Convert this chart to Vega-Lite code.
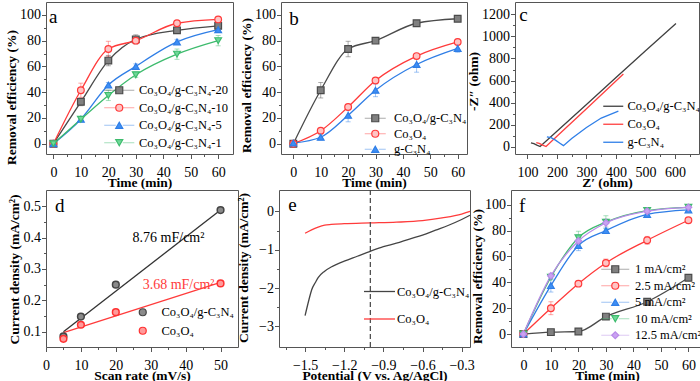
{
  "$schema": "https://vega.github.io/schema/vega-lite/v6.json",
  "padding": {"left": 3, "top": 1, "right": 0, "bottom": 0},
  "background": "white",
  "config": {
    "font": "Liberation Serif",
    "view": {"stroke": "#555555", "strokeWidth": 1},
    "axis": {"grid": false, "domain": false, "labelFont": "Liberation Serif", "titleFont": "Liberation Serif", "labelFontSize": 14, "titleFontSize": 13.5, "titleFontWeight": "bold", "labelColor": "#000000", "titleColor": "#000000", "tickColor": "#555555", "tickWidth": 1, "labelFlush": false, "labelOverlap": false, "labelBound": false},
    "axisX": {"labelPadding": 6.5, "titlePadding": -4},
    "axisY": {"labelPadding": 1, "titlePadding": 1.5},
    "legend": {"labelFont": "Liberation Serif", "labelFontSize": 12.5, "labelColor": "#000000", "padding": 0, "symbolStrokeWidth": 1.2, "labelLimit": 300}
  },
  "datasets": {
    "a": [
      {"s": "Co₃O₄/g-C₃N₄-20", "t": 0, "r": 0, "e": 1}, {"s": "Co₃O₄/g-C₃N₄-20", "t": 10, "r": 32.5, "e": 3}, {"s": "Co₃O₄/g-C₃N₄-20", "t": 20, "r": 64.5, "e": 4}, {"s": "Co₃O₄/g-C₃N₄-20", "t": 30, "r": 81, "e": 3.5}, {"s": "Co₃O₄/g-C₃N₄-20", "t": 45, "r": 88, "e": 1}, {"s": "Co₃O₄/g-C₃N₄-20", "t": 60, "r": 91.5, "e": 2},
      {"s": "Co₃O₄/g-C₃N₄-10", "t": 0, "r": 0, "e": 1}, {"s": "Co₃O₄/g-C₃N₄-10", "t": 10, "r": 41.5, "e": 5.5}, {"s": "Co₃O₄/g-C₃N₄-10", "t": 20, "r": 73.5, "e": 6}, {"s": "Co₃O₄/g-C₃N₄-10", "t": 30, "r": 80, "e": 2}, {"s": "Co₃O₄/g-C₃N₄-10", "t": 45, "r": 93.5, "e": 1.5}, {"s": "Co₃O₄/g-C₃N₄-10", "t": 60, "r": 96.5, "e": 1},
      {"s": "Co₃O₄/g-C₃N₄-5", "t": 0, "r": 0, "e": 1}, {"s": "Co₃O₄/g-C₃N₄-5", "t": 10, "r": 19, "e": 2}, {"s": "Co₃O₄/g-C₃N₄-5", "t": 20, "r": 45.5, "e": 2}, {"s": "Co₃O₄/g-C₃N₄-5", "t": 30, "r": 60, "e": 2}, {"s": "Co₃O₄/g-C₃N₄-5", "t": 45, "r": 79, "e": 2}, {"s": "Co₃O₄/g-C₃N₄-5", "t": 60, "r": 88.5, "e": 2},
      {"s": "Co₃O₄/g-C₃N₄-1", "t": 0, "r": 0, "e": 1}, {"s": "Co₃O₄/g-C₃N₄-1", "t": 10, "r": 19, "e": 1.5}, {"s": "Co₃O₄/g-C₃N₄-1", "t": 20, "r": 37.5, "e": 4}, {"s": "Co₃O₄/g-C₃N₄-1", "t": 30, "r": 53.5, "e": 2}, {"s": "Co₃O₄/g-C₃N₄-1", "t": 45, "r": 69.5, "e": 4}, {"s": "Co₃O₄/g-C₃N₄-1", "t": 60, "r": 80, "e": 4}
    ],
    "b": [
      {"s": "Co₃O₄/g-C₃N₄", "t": 0, "r": 0, "e": 1}, {"s": "Co₃O₄/g-C₃N₄", "t": 10, "r": 41.5, "e": 6}, {"s": "Co₃O₄/g-C₃N₄", "t": 20, "r": 73.5, "e": 6}, {"s": "Co₃O₄/g-C₃N₄", "t": 30, "r": 80, "e": 1.5}, {"s": "Co₃O₄/g-C₃N₄", "t": 45, "r": 93.5, "e": 1.5}, {"s": "Co₃O₄/g-C₃N₄", "t": 60, "r": 97, "e": 1},
      {"s": "Co₃O₄", "t": 0, "r": 0, "e": 2}, {"s": "Co₃O₄", "t": 10, "r": 10, "e": 1.5}, {"s": "Co₃O₄", "t": 20, "r": 28.5, "e": 2}, {"s": "Co₃O₄", "t": 30, "r": 49, "e": 2}, {"s": "Co₃O₄", "t": 45, "r": 68, "e": 2}, {"s": "Co₃O₄", "t": 60, "r": 79, "e": 2},
      {"s": "g-C₃N₄", "t": 0, "r": 0.5, "e": 2}, {"s": "g-C₃N₄", "t": 10, "r": 5, "e": 2}, {"s": "g-C₃N₄", "t": 20, "r": 22, "e": 5}, {"s": "g-C₃N₄", "t": 30, "r": 41.5, "e": 5}, {"s": "g-C₃N₄", "t": 45, "r": 61.5, "e": 6}, {"s": "g-C₃N₄", "t": 60, "r": 74, "e": 3}
    ],
    "c": [
      {"s": "Co₃O₄/g-C₃N₄", "zr": 112, "zi": 35}, {"s": "Co₃O₄/g-C₃N₄", "zr": 122, "zi": 28}, {"s": "Co₃O₄/g-C₃N₄", "zr": 132, "zi": 15}, {"s": "Co₃O₄/g-C₃N₄", "zr": 143, "zi": 2}, {"s": "Co₃O₄/g-C₃N₄", "zr": 200, "zi": 140}, {"s": "Co₃O₄/g-C₃N₄", "zr": 300, "zi": 383}, {"s": "Co₃O₄/g-C₃N₄", "zr": 400, "zi": 627}, {"s": "Co₃O₄/g-C₃N₄", "zr": 500, "zi": 870}, {"s": "Co₃O₄/g-C₃N₄", "zr": 603, "zi": 1118},
      {"s": "Co₃O₄", "zr": 130, "zi": 38}, {"s": "Co₃O₄", "zr": 140, "zi": 30}, {"s": "Co₃O₄", "zr": 152, "zi": 14}, {"s": "Co₃O₄", "zr": 163, "zi": 2}, {"s": "Co₃O₄", "zr": 200, "zi": 95}, {"s": "Co₃O₄", "zr": 300, "zi": 345}, {"s": "Co₃O₄", "zr": 425, "zi": 660},
      {"s": "g-C₃N₄", "zr": 166, "zi": 90}, {"s": "g-C₃N₄", "zr": 180, "zi": 82}, {"s": "g-C₃N₄", "zr": 195, "zi": 60}, {"s": "g-C₃N₄", "zr": 210, "zi": 32}, {"s": "g-C₃N₄", "zr": 222, "zi": 10}, {"s": "g-C₃N₄", "zr": 250, "zi": 75}, {"s": "g-C₃N₄", "zr": 300, "zi": 175}, {"s": "g-C₃N₄", "zr": 350, "zi": 260}, {"s": "g-C₃N₄", "zr": 408, "zi": 322}
    ],
    "d": [
      {"s": "Co₃O₄/g-C₃N₄", "sr": 5, "cd": 0.085}, {"s": "Co₃O₄/g-C₃N₄", "sr": 10, "cd": 0.148}, {"s": "Co₃O₄/g-C₃N₄", "sr": 20, "cd": 0.25}, {"s": "Co₃O₄/g-C₃N₄", "sr": 50, "cd": 0.488},
      {"s": "Co₃O₄", "sr": 5, "cd": 0.077}, {"s": "Co₃O₄", "sr": 10, "cd": 0.122}, {"s": "Co₃O₄", "sr": 20, "cd": 0.162}, {"s": "Co₃O₄", "sr": 50, "cd": 0.254}
    ],
    "dfit": [
      {"s": "Co₃O₄/g-C₃N₄", "sr": 5, "cd": 0.1}, {"s": "Co₃O₄/g-C₃N₄", "sr": 50, "cd": 0.488},
      {"s": "Co₃O₄", "sr": 5, "cd": 0.097}, {"s": "Co₃O₄", "sr": 50, "cd": 0.257}
    ],
    "e": [
      {"s": "Co₃O₄/g-C₃N₄", "v": -1.5, "j": -2.72}, {"s": "Co₃O₄/g-C₃N₄", "v": -1.47, "j": -2.3}, {"s": "Co₃O₄/g-C₃N₄", "v": -1.45, "j": -2.05}, {"s": "Co₃O₄/g-C₃N₄", "v": -1.42, "j": -1.85}, {"s": "Co₃O₄/g-C₃N₄", "v": -1.4, "j": -1.73}, {"s": "Co₃O₄/g-C₃N₄", "v": -1.35, "j": -1.56}, {"s": "Co₃O₄/g-C₃N₄", "v": -1.3, "j": -1.45}, {"s": "Co₃O₄/g-C₃N₄", "v": -1.25, "j": -1.37}, {"s": "Co₃O₄/g-C₃N₄", "v": -1.2, "j": -1.3}, {"s": "Co₃O₄/g-C₃N₄", "v": -1.1, "j": -1.17}, {"s": "Co₃O₄/g-C₃N₄", "v": -1.0, "j": -1.04}, {"s": "Co₃O₄/g-C₃N₄", "v": -0.9, "j": -0.92}, {"s": "Co₃O₄/g-C₃N₄", "v": -0.8, "j": -0.83}, {"s": "Co₃O₄/g-C₃N₄", "v": -0.7, "j": -0.72}, {"s": "Co₃O₄/g-C₃N₄", "v": -0.6, "j": -0.62}, {"s": "Co₃O₄/g-C₃N₄", "v": -0.5, "j": -0.49}, {"s": "Co₃O₄/g-C₃N₄", "v": -0.4, "j": -0.36}, {"s": "Co₃O₄/g-C₃N₄", "v": -0.3, "j": -0.21}, {"s": "Co₃O₄/g-C₃N₄", "v": -0.236, "j": -0.1},
      {"s": "Co₃O₄", "v": -1.5, "j": -0.57}, {"s": "Co₃O₄", "v": -1.45, "j": -0.48}, {"s": "Co₃O₄", "v": -1.4, "j": -0.41}, {"s": "Co₃O₄", "v": -1.35, "j": -0.36}, {"s": "Co₃O₄", "v": -1.3, "j": -0.34}, {"s": "Co₃O₄", "v": -1.2, "j": -0.32}, {"s": "Co₃O₄", "v": -1.0, "j": -0.3}, {"s": "Co₃O₄", "v": -0.8, "j": -0.28}, {"s": "Co₃O₄", "v": -0.6, "j": -0.24}, {"s": "Co₃O₄", "v": -0.45, "j": -0.17}, {"s": "Co₃O₄", "v": -0.3, "j": -0.07}, {"s": "Co₃O₄", "v": -0.236, "j": 0.0}
    ],
    "f": [
      {"s": "1 mA/cm²", "t": 0, "r": 0, "e": 1}, {"s": "1 mA/cm²", "t": 10, "r": 1.5, "e": 1}, {"s": "1 mA/cm²", "t": 20, "r": 2, "e": 1}, {"s": "1 mA/cm²", "t": 30, "r": 13.5, "e": 1}, {"s": "1 mA/cm²", "t": 45, "r": 25, "e": 1}, {"s": "1 mA/cm²", "t": 60, "r": 43.5, "e": 1},
      {"s": "2.5 mA/cm²", "t": 0, "r": 0, "e": 1}, {"s": "2.5 mA/cm²", "t": 10, "r": 20, "e": 5}, {"s": "2.5 mA/cm²", "t": 20, "r": 39, "e": 2}, {"s": "2.5 mA/cm²", "t": 30, "r": 55, "e": 3}, {"s": "2.5 mA/cm²", "t": 45, "r": 72.5, "e": 3}, {"s": "2.5 mA/cm²", "t": 60, "r": 88, "e": 2},
      {"s": "5 mA/cm²", "t": 0, "r": 0, "e": 1}, {"s": "5 mA/cm²", "t": 10, "r": 37.5, "e": 5}, {"s": "5 mA/cm²", "t": 20, "r": 68.5, "e": 4}, {"s": "5 mA/cm²", "t": 30, "r": 80, "e": 2}, {"s": "5 mA/cm²", "t": 45, "r": 92.5, "e": 2}, {"s": "5 mA/cm²", "t": 60, "r": 96, "e": 1},
      {"s": "10 mA/cm²", "t": 0, "r": 0, "e": 1}, {"s": "10 mA/cm²", "t": 10, "r": 44, "e": 2}, {"s": "10 mA/cm²", "t": 20, "r": 74.5, "e": 5}, {"s": "10 mA/cm²", "t": 30, "r": 86.5, "e": 5}, {"s": "10 mA/cm²", "t": 45, "r": 95.5, "e": 2}, {"s": "10 mA/cm²", "t": 60, "r": 98, "e": 1},
      {"s": "12.5 mA/cm²", "t": 0, "r": 0, "e": 1}, {"s": "12.5 mA/cm²", "t": 10, "r": 45, "e": 2}, {"s": "12.5 mA/cm²", "t": 20, "r": 72, "e": 5}, {"s": "12.5 mA/cm²", "t": 30, "r": 86, "e": 3}, {"s": "12.5 mA/cm²", "t": 45, "r": 95, "e": 2}, {"s": "12.5 mA/cm²", "t": 60, "r": 98, "e": 1}
    ]
  },
  "resolve": {"scale": {"color": "independent", "fill": "independent", "stroke": "independent", "shape": "independent"}},
  "spacing": -1,
  "vconcat": [
    {
      "hconcat": [
        {
          "width": 187, "height": 152,
          "layer": [
            {"data": {"name": "a"}, "mark": {"type": "line", "interpolate": "monotone", "strokeWidth": 1.3},
             "encoding": {
               "x": {"field": "t", "type": "quantitative", "title": "Time (min)", "scale": {"domain": [-2.7, 65.4], "nice": false, "zero": false}, "axis": {"title": "Time (min)", "labelOverlap": false, "values": [0, 5, 10, 15, 20, 25, 30, 35, 40, 45, 50, 55, 60], "labelExpr": "datum.value % 10 === 0 ? datum.label : ''", "tickSize": {"condition": {"test": "datum.value % 10 !== 0", "value": 2.5}, "value": 4.5}}},
               "y": {"field": "r", "type": "quantitative", "title": "Removal efficiency (%)", "scale": {"domain": [-8, 110], "nice": false, "zero": false}, "axis": {"title": "Removal efficiency (%)", "labelOverlap": false, "values": [0, 10, 20, 30, 40, 50, 60, 70, 80, 90, 100], "labelExpr": "datum.value % 20 === 0 ? datum.label : ''", "tickSize": {"condition": {"test": "datum.value % 20 !== 0", "value": 2.5}, "value": 4.5}, "titleY": 95}},
               "color": {"field": "s", "type": "nominal", "sort": ["Co₃O₄/g-C₃N₄-20", "Co₃O₄/g-C₃N₄-10", "Co₃O₄/g-C₃N₄-5", "Co₃O₄/g-C₃N₄-1"], "scale": {"range": ["#4a4a4a", "#ff3a3a", "#2f7ee6", "#3dbb6d"]},
                 "legend": {"orient": "none", "legendX": 67, "legendY": 82, "title": null, "symbolType": "M-4.3,0H-1M1,0H4.3", "symbolSize": 49, "labelOffset": 13.5, "rowPadding": 4.5}}}},
            {"data": {"name": "a"}, "mark": {"type": "errorbar", "ticks": {"size": 5, "opacity": 0.45}, "rule": {"opacity": 0.45}},
             "encoding": {
               "x": {"field": "t", "type": "quantitative", "title": "Time (min)", "scale": {"domain": [-2.7, 65.4], "nice": false, "zero": false}, "axis": {"title": "Time (min)", "labelOverlap": false, "values": [0, 5, 10, 15, 20, 25, 30, 35, 40, 45, 50, 55, 60], "labelExpr": "datum.value % 10 === 0 ? datum.label : ''", "tickSize": {"condition": {"test": "datum.value % 10 !== 0", "value": 2.5}, "value": 4.5}}},
               "y": {"field": "r", "type": "quantitative", "title": "Removal efficiency (%)", "scale": {"domain": [-8, 110], "nice": false, "zero": false}, "axis": {"title": "Removal efficiency (%)", "labelOverlap": false, "values": [0, 10, 20, 30, 40, 50, 60, 70, 80, 90, 100], "labelExpr": "datum.value % 20 === 0 ? datum.label : ''", "tickSize": {"condition": {"test": "datum.value % 20 !== 0", "value": 2.5}, "value": 4.5}, "titleY": 95}},
               "yError": {"field": "e"},
               "color": {"field": "s", "type": "nominal", "sort": ["Co₃O₄/g-C₃N₄-20", "Co₃O₄/g-C₃N₄-10", "Co₃O₄/g-C₃N₄-5", "Co₃O₄/g-C₃N₄-1"], "scale": {"range": ["#4a4a4a", "#ff3a3a", "#2f7ee6", "#3dbb6d"]}}}},
            {"data": {"name": "a"}, "mark": {"type": "point", "size": 45, "strokeWidth": 1.2, "opacity": 1},
             "encoding": {
               "x": {"field": "t", "type": "quantitative", "title": "Time (min)", "scale": {"domain": [-2.7, 65.4], "nice": false, "zero": false}, "axis": {"title": "Time (min)", "labelOverlap": false, "values": [0, 5, 10, 15, 20, 25, 30, 35, 40, 45, 50, 55, 60], "labelExpr": "datum.value % 10 === 0 ? datum.label : ''", "tickSize": {"condition": {"test": "datum.value % 10 !== 0", "value": 2.5}, "value": 4.5}}},
               "y": {"field": "r", "type": "quantitative", "title": "Removal efficiency (%)", "scale": {"domain": [-8, 110], "nice": false, "zero": false}, "axis": {"title": "Removal efficiency (%)", "labelOverlap": false, "values": [0, 10, 20, 30, 40, 50, 60, 70, 80, 90, 100], "labelExpr": "datum.value % 20 === 0 ? datum.label : ''", "tickSize": {"condition": {"test": "datum.value % 20 !== 0", "value": 2.5}, "value": 4.5}, "titleY": 95}},
               "shape": {"field": "s", "type": "nominal", "scale": {"domain": ["Co₃O₄/g-C₃N₄-20", "Co₃O₄/g-C₃N₄-10", "Co₃O₄/g-C₃N₄-5", "Co₃O₄/g-C₃N₄-1"], "range": ["square", "circle", "triangle-up", "triangle-down"]},
                 "legend": {"orient": "none", "legendX": 67, "legendY": 82, "title": null, "symbolSize": 49, "labelOffset": 13.5, "rowPadding": 4.5, "labelOpacity": 0}},
               "fill": {"field": "s", "type": "nominal", "scale": {"domain": ["Co₃O₄/g-C₃N₄-20", "Co₃O₄/g-C₃N₄-10", "Co₃O₄/g-C₃N₄-5", "Co₃O₄/g-C₃N₄-1"], "range": ["#808080", "#ffc4c4", "#3d8ef5", "#6fd898"]},
                 "legend": {"orient": "none", "legendX": 67, "legendY": 82, "title": null, "symbolSize": 49, "labelOffset": 13.5, "rowPadding": 4.5, "labelOpacity": 0}},
               "stroke": {"field": "s", "type": "nominal", "scale": {"domain": ["Co₃O₄/g-C₃N₄-20", "Co₃O₄/g-C₃N₄-10", "Co₃O₄/g-C₃N₄-5", "Co₃O₄/g-C₃N₄-1"], "range": ["#4a4a4a", "#ff3a3a", "#2f7ee6", "#3dbb6d"]},
                 "legend": {"orient": "none", "legendX": 67, "legendY": 82, "title": null, "symbolSize": 49, "labelOffset": 13.5, "rowPadding": 4.5, "labelOpacity": 0}}}},
            {"data": {"values": [{}]}, "mark": {"type": "text", "fontSize": 19, "font": "Liberation Serif", "align": "left", "baseline": "alphabetic", "color": "#000000"},
             "encoding": {
               "x": {"datum": -1.6, "type": "quantitative", "title": "Time (min)", "scale": {"domain": [-2.7, 65.4], "nice": false, "zero": false}, "axis": {"title": "Time (min)", "labelOverlap": false, "values": [0, 5, 10, 15, 20, 25, 30, 35, 40, 45, 50, 55, 60], "labelExpr": "datum.value % 10 === 0 ? datum.label : ''", "tickSize": {"condition": {"test": "datum.value % 10 !== 0", "value": 2.5}, "value": 4.5}}},
               "y": {"datum": 93.8, "type": "quantitative", "title": "Removal efficiency (%)", "scale": {"domain": [-8, 110], "nice": false, "zero": false}, "axis": {"title": "Removal efficiency (%)", "labelOverlap": false, "values": [0, 10, 20, 30, 40, 50, 60, 70, 80, 90, 100], "labelExpr": "datum.value % 20 === 0 ? datum.label : ''", "tickSize": {"condition": {"test": "datum.value % 20 !== 0", "value": 2.5}, "value": 4.5}, "titleY": 95}},
               "text": {"value": "a"}}}
          ]
        },
        {
          "width": 186, "height": 152,
          "layer": [
            {"data": {"name": "b"}, "mark": {"type": "line", "interpolate": "monotone", "strokeWidth": 1.3},
             "encoding": {
               "x": {"field": "t", "type": "quantitative", "title": "Time (min)", "scale": {"domain": [-4.5, 63.4], "nice": false, "zero": false}, "axis": {"title": "Time (min)", "labelOverlap": false, "values": [0, 5, 10, 15, 20, 25, 30, 35, 40, 45, 50, 55, 60], "labelExpr": "datum.value % 10 === 0 ? datum.label : ''", "tickSize": {"condition": {"test": "datum.value % 10 !== 0", "value": 2.5}, "value": 4.5}}},
               "y": {"field": "r", "type": "quantitative", "title": "Removal efficiency (%)", "scale": {"domain": [-8, 110], "nice": false, "zero": false}, "axis": {"title": "Removal efficiency (%)", "labelOverlap": false, "values": [0, 10, 20, 30, 40, 50, 60, 70, 80, 90, 100], "labelExpr": "datum.value % 20 === 0 ? datum.label : ''", "tickSize": {"condition": {"test": "datum.value % 20 !== 0", "value": 2.5}, "value": 4.5}, "titleY": 83}},
               "color": {"field": "s", "type": "nominal", "sort": ["Co₃O₄/g-C₃N₄", "Co₃O₄", "g-C₃N₄"], "scale": {"range": ["#4a4a4a", "#ff3a3a", "#2f7ee6"]},
                 "legend": {"orient": "none", "legendX": 88, "legendY": 110, "title": null, "symbolType": "M-3,0H-1M1,0H3", "symbolSize": 49, "labelOffset": 12.5, "rowPadding": 2.5}}}},
            {"data": {"name": "b"}, "mark": {"type": "errorbar", "ticks": {"size": 5, "opacity": 0.45}, "rule": {"opacity": 0.45}},
             "encoding": {
               "x": {"field": "t", "type": "quantitative", "title": "Time (min)", "scale": {"domain": [-4.5, 63.4], "nice": false, "zero": false}, "axis": {"title": "Time (min)", "labelOverlap": false, "values": [0, 5, 10, 15, 20, 25, 30, 35, 40, 45, 50, 55, 60], "labelExpr": "datum.value % 10 === 0 ? datum.label : ''", "tickSize": {"condition": {"test": "datum.value % 10 !== 0", "value": 2.5}, "value": 4.5}}},
               "y": {"field": "r", "type": "quantitative", "title": "Removal efficiency (%)", "scale": {"domain": [-8, 110], "nice": false, "zero": false}, "axis": {"title": "Removal efficiency (%)", "labelOverlap": false, "values": [0, 10, 20, 30, 40, 50, 60, 70, 80, 90, 100], "labelExpr": "datum.value % 20 === 0 ? datum.label : ''", "tickSize": {"condition": {"test": "datum.value % 20 !== 0", "value": 2.5}, "value": 4.5}, "titleY": 83}},
               "yError": {"field": "e"},
               "color": {"field": "s", "type": "nominal", "sort": ["Co₃O₄/g-C₃N₄", "Co₃O₄", "g-C₃N₄"], "scale": {"range": ["#4a4a4a", "#ff3a3a", "#2f7ee6"]}}}},
            {"data": {"name": "b"}, "mark": {"type": "point", "size": 45, "strokeWidth": 1.2, "opacity": 1},
             "encoding": {
               "x": {"field": "t", "type": "quantitative", "title": "Time (min)", "scale": {"domain": [-4.5, 63.4], "nice": false, "zero": false}, "axis": {"title": "Time (min)", "labelOverlap": false, "values": [0, 5, 10, 15, 20, 25, 30, 35, 40, 45, 50, 55, 60], "labelExpr": "datum.value % 10 === 0 ? datum.label : ''", "tickSize": {"condition": {"test": "datum.value % 10 !== 0", "value": 2.5}, "value": 4.5}}},
               "y": {"field": "r", "type": "quantitative", "title": "Removal efficiency (%)", "scale": {"domain": [-8, 110], "nice": false, "zero": false}, "axis": {"title": "Removal efficiency (%)", "labelOverlap": false, "values": [0, 10, 20, 30, 40, 50, 60, 70, 80, 90, 100], "labelExpr": "datum.value % 20 === 0 ? datum.label : ''", "tickSize": {"condition": {"test": "datum.value % 20 !== 0", "value": 2.5}, "value": 4.5}, "titleY": 83}},
               "shape": {"field": "s", "type": "nominal", "scale": {"domain": ["Co₃O₄/g-C₃N₄", "Co₃O₄", "g-C₃N₄"], "range": ["square", "circle", "triangle-up"]},
                 "legend": {"orient": "none", "legendX": 88, "legendY": 110, "title": null, "symbolSize": 49, "labelOffset": 12.5, "rowPadding": 2.5, "labelOpacity": 0}},
               "fill": {"field": "s", "type": "nominal", "scale": {"domain": ["Co₃O₄/g-C₃N₄", "Co₃O₄", "g-C₃N₄"], "range": ["#808080", "#ffc4c4", "#3d8ef5"]},
                 "legend": {"orient": "none", "legendX": 88, "legendY": 110, "title": null, "symbolSize": 49, "labelOffset": 12.5, "rowPadding": 2.5, "labelOpacity": 0}},
               "stroke": {"field": "s", "type": "nominal", "scale": {"domain": ["Co₃O₄/g-C₃N₄", "Co₃O₄", "g-C₃N₄"], "range": ["#4a4a4a", "#ff3a3a", "#2f7ee6"]},
                 "legend": {"orient": "none", "legendX": 88, "legendY": 110, "title": null, "symbolSize": 49, "labelOffset": 12.5, "rowPadding": 2.5, "labelOpacity": 0}}}},
            {"data": {"values": [{}]}, "mark": {"type": "text", "fontSize": 19, "font": "Liberation Serif", "align": "left", "baseline": "alphabetic", "color": "#000000"},
             "encoding": {
               "x": {"datum": -1.5, "type": "quantitative", "title": "Time (min)", "scale": {"domain": [-4.5, 63.4], "nice": false, "zero": false}, "axis": {"title": "Time (min)", "labelOverlap": false, "values": [0, 5, 10, 15, 20, 25, 30, 35, 40, 45, 50, 55, 60], "labelExpr": "datum.value % 10 === 0 ? datum.label : ''", "tickSize": {"condition": {"test": "datum.value % 10 !== 0", "value": 2.5}, "value": 4.5}}},
               "y": {"datum": 92, "type": "quantitative", "title": "Removal efficiency (%)", "scale": {"domain": [-8, 110], "nice": false, "zero": false}, "axis": {"title": "Removal efficiency (%)", "labelOverlap": false, "values": [0, 10, 20, 30, 40, 50, 60, 70, 80, 90, 100], "labelExpr": "datum.value % 20 === 0 ? datum.label : ''", "tickSize": {"condition": {"test": "datum.value % 20 !== 0", "value": 2.5}, "value": 4.5}, "titleY": 83}},
               "text": {"value": "b"}}}
          ]
        },
        {
          "width": 184, "height": 152,
          "layer": [
            {"data": {"name": "c"}, "mark": {"type": "line", "strokeWidth": 1.3},
             "encoding": {
               "x": {"field": "zr", "type": "quantitative", "title": "Z′ (ohm)", "scale": {"domain": [58, 681], "nice": false, "zero": false}, "axis": {"title": "Z′ (ohm)", "labelOverlap": false, "values": [100, 150, 200, 250, 300, 350, 400, 450, 500, 550, 600, 650], "labelExpr": "datum.value % 100 === 0 ? datum.label : ''", "tickSize": {"condition": {"test": "datum.value % 100 !== 0", "value": 2.5}, "value": 4.5}}},
               "y": {"field": "zi", "type": "quantitative", "title": "-Z″ (ohm)", "scale": {"domain": [-66, 1312], "nice": false, "zero": false}, "axis": {"title": "-Z″ (ohm)", "labelOverlap": false, "values": [0, 100, 200, 300, 400, 500, 600, 700, 800, 900, 1000, 1100, 1200], "labelExpr": "datum.value % 200 === 0 ? datum.label : ''", "format": "d", "tickSize": {"condition": {"test": "datum.value % 200 !== 0", "value": 2.5}, "value": 4.5}, "titleY": 79}},
               "color": {"field": "s", "type": "nominal", "scale": {"domain": ["Co₃O₄/g-C₃N₄", "Co₃O₄", "g-C₃N₄"], "range": ["#404040", "#ff4040", "#2f7fe8"]},
                 "legend": {"orient": "none", "legendX": 92, "legendY": 98, "title": null, "symbolSize": 100, "labelOffset": 8, "rowPadding": 5, "symbolType": "M-2,0H2", "symbolStrokeWidth": 1.3}}}},
            {"data": {"values": [{}]}, "mark": {"type": "text", "fontSize": 19, "font": "Liberation Serif", "align": "left", "baseline": "alphabetic", "color": "#000000"},
             "encoding": {
               "x": {"datum": 72, "type": "quantitative", "title": "Z′ (ohm)", "scale": {"domain": [58, 681], "nice": false, "zero": false}, "axis": {"title": "Z′ (ohm)", "labelOverlap": false, "values": [100, 150, 200, 250, 300, 350, 400, 450, 500, 550, 600, 650], "labelExpr": "datum.value % 100 === 0 ? datum.label : ''", "tickSize": {"condition": {"test": "datum.value % 100 !== 0", "value": 2.5}, "value": 4.5}}},
               "y": {"datum": 1140, "type": "quantitative", "title": "-Z″ (ohm)", "scale": {"domain": [-66, 1312], "nice": false, "zero": false}, "axis": {"title": "-Z″ (ohm)", "labelOverlap": false, "values": [0, 100, 200, 300, 400, 500, 600, 700, 800, 900, 1000, 1100, 1200], "labelExpr": "datum.value % 200 === 0 ? datum.label : ''", "format": "d", "tickSize": {"condition": {"test": "datum.value % 200 !== 0", "value": 2.5}, "value": 4.5}, "titleY": 79}},
               "text": {"value": "c"}}}
          ]
        }
      ],
      "spacing": 48,
      "bounds": "flush",
      "resolve": {"scale": {"color": "independent", "fill": "independent", "stroke": "independent", "shape": "independent"}}
    },
    {
      "hconcat": [
        {
          "width": 192, "height": 157,
          "layer": [
            {"data": {"name": "dfit"}, "mark": {"type": "line", "strokeWidth": 1.3},
             "encoding": {
               "x": {"field": "sr", "type": "quantitative", "title": "Scan rate (mV/s)", "scale": {"domain": [0, 55], "nice": false, "zero": false}, "axis": {"title": "Scan rate (mV/s)", "labelOverlap": false, "values": [0, 5, 10, 15, 20, 25, 30, 35, 40, 45, 50], "labelExpr": "datum.value % 10 === 0 ? datum.label : ''", "tickSize": {"condition": {"test": "datum.value % 10 !== 0", "value": 2.5}, "value": 4.5}}},
               "y": {"field": "cd", "type": "quantitative", "title": "Current density (mA/cm²)", "scale": {"domain": [0.051, 0.552], "nice": false, "zero": false}, "axis": {"title": "Current density (mA/cm²)", "labelOverlap": false, "values": [0.1, 0.15, 0.2, 0.25, 0.3, 0.35, 0.4, 0.45, 0.5], "format": ".1f", "labelExpr": "abs(datum.value * 10 - round(datum.value * 10)) < 0.01 ? datum.label : ''", "tickSize": {"condition": {"test": "abs(datum.value * 10 - round(datum.value * 10)) > 0.01", "value": 2.5}, "value": 4.5}, "titleY": 79}},
               "color": {"field": "s", "type": "nominal", "sort": ["Co₃O₄/g-C₃N₄", "Co₃O₄"], "scale": {"range": ["#333333", "#ff3b3b"]}, "legend": null}}},
            {"data": {"name": "d"}, "mark": {"type": "point", "size": 45, "strokeWidth": 1.5, "opacity": 1, "shape": "circle"},
             "encoding": {
               "x": {"field": "sr", "type": "quantitative", "title": "Scan rate (mV/s)", "scale": {"domain": [0, 55], "nice": false, "zero": false}, "axis": {"title": "Scan rate (mV/s)", "labelOverlap": false, "values": [0, 5, 10, 15, 20, 25, 30, 35, 40, 45, 50], "labelExpr": "datum.value % 10 === 0 ? datum.label : ''", "tickSize": {"condition": {"test": "datum.value % 10 !== 0", "value": 2.5}, "value": 4.5}}},
               "y": {"field": "cd", "type": "quantitative", "title": "Current density (mA/cm²)", "scale": {"domain": [0.051, 0.552], "nice": false, "zero": false}, "axis": {"title": "Current density (mA/cm²)", "labelOverlap": false, "values": [0.1, 0.15, 0.2, 0.25, 0.3, 0.35, 0.4, 0.45, 0.5], "format": ".1f", "labelExpr": "abs(datum.value * 10 - round(datum.value * 10)) < 0.01 ? datum.label : ''", "tickSize": {"condition": {"test": "abs(datum.value * 10 - round(datum.value * 10)) > 0.01", "value": 2.5}, "value": 4.5}, "titleY": 79}},
               "fill": {"field": "s", "type": "nominal", "scale": {"domain": ["Co₃O₄/g-C₃N₄", "Co₃O₄"], "range": ["#8a8a8a", "#ff9a9a"]},
                 "legend": {"orient": "none", "legendX": 90.5, "legendY": 116, "title": null, "symbolSize": 49, "labelOffset": 12.5, "rowPadding": 5.5}},
               "stroke": {"field": "s", "type": "nominal", "scale": {"domain": ["Co₃O₄/g-C₃N₄", "Co₃O₄"], "range": ["#444444", "#ff3030"]},
                 "legend": {"orient": "none", "legendX": 90.5, "legendY": 116, "title": null, "symbolSize": 49, "labelOffset": 12.5, "rowPadding": 5.5}}}},
            {"data": {"values": [{}]}, "mark": {"type": "text", "fontSize": 14, "font": "Liberation Serif", "align": "left", "baseline": "alphabetic", "color": "#000000"},
             "encoding": {
               "x": {"datum": 24.8, "type": "quantitative", "title": "Scan rate (mV/s)", "scale": {"domain": [0, 55], "nice": false, "zero": false}, "axis": {"title": "Scan rate (mV/s)", "labelOverlap": false, "values": [0, 5, 10, 15, 20, 25, 30, 35, 40, 45, 50], "labelExpr": "datum.value % 10 === 0 ? datum.label : ''", "tickSize": {"condition": {"test": "datum.value % 10 !== 0", "value": 2.5}, "value": 4.5}}},
               "y": {"datum": 0.386, "type": "quantitative", "title": "Current density (mA/cm²)", "scale": {"domain": [0.051, 0.552], "nice": false, "zero": false}, "axis": {"title": "Current density (mA/cm²)", "labelOverlap": false, "values": [0.1, 0.15, 0.2, 0.25, 0.3, 0.35, 0.4, 0.45, 0.5], "format": ".1f", "labelExpr": "abs(datum.value * 10 - round(datum.value * 10)) < 0.01 ? datum.label : ''", "tickSize": {"condition": {"test": "abs(datum.value * 10 - round(datum.value * 10)) > 0.01", "value": 2.5}, "value": 4.5}, "titleY": 79}},
               "text": {"value": "8.76 mF/cm²"}}},
            {"data": {"values": [{}]}, "mark": {"type": "text", "fontSize": 14, "font": "Liberation Serif", "align": "left", "baseline": "alphabetic", "color": "#ff3b3b"},
             "encoding": {
               "x": {"datum": 27.7, "type": "quantitative", "title": "Scan rate (mV/s)", "scale": {"domain": [0, 55], "nice": false, "zero": false}, "axis": {"title": "Scan rate (mV/s)", "labelOverlap": false, "values": [0, 5, 10, 15, 20, 25, 30, 35, 40, 45, 50], "labelExpr": "datum.value % 10 === 0 ? datum.label : ''", "tickSize": {"condition": {"test": "datum.value % 10 !== 0", "value": 2.5}, "value": 4.5}}},
               "y": {"datum": 0.236, "type": "quantitative", "title": "Current density (mA/cm²)", "scale": {"domain": [0.051, 0.552], "nice": false, "zero": false}, "axis": {"title": "Current density (mA/cm²)", "labelOverlap": false, "values": [0.1, 0.15, 0.2, 0.25, 0.3, 0.35, 0.4, 0.45, 0.5], "format": ".1f", "labelExpr": "abs(datum.value * 10 - round(datum.value * 10)) < 0.01 ? datum.label : ''", "tickSize": {"condition": {"test": "abs(datum.value * 10 - round(datum.value * 10)) > 0.01", "value": 2.5}, "value": 4.5}, "titleY": 79}},
               "text": {"value": "3.68 mF/cm²"}}},
            {"data": {"values": [{}]}, "mark": {"type": "text", "fontSize": 19, "font": "Liberation Serif", "align": "left", "baseline": "alphabetic", "color": "#000000"},
             "encoding": {
               "x": {"datum": 2.6, "type": "quantitative", "title": "Scan rate (mV/s)", "scale": {"domain": [0, 55], "nice": false, "zero": false}, "axis": {"title": "Scan rate (mV/s)", "labelOverlap": false, "values": [0, 5, 10, 15, 20, 25, 30, 35, 40, 45, 50], "labelExpr": "datum.value % 10 === 0 ? datum.label : ''", "tickSize": {"condition": {"test": "datum.value % 10 !== 0", "value": 2.5}, "value": 4.5}}},
               "y": {"datum": 0.482, "type": "quantitative", "title": "Current density (mA/cm²)", "scale": {"domain": [0.051, 0.552], "nice": false, "zero": false}, "axis": {"title": "Current density (mA/cm²)", "labelOverlap": false, "values": [0.1, 0.15, 0.2, 0.25, 0.3, 0.35, 0.4, 0.45, 0.5], "format": ".1f", "labelExpr": "abs(datum.value * 10 - round(datum.value * 10)) < 0.01 ? datum.label : ''", "tickSize": {"condition": {"test": "abs(datum.value * 10 - round(datum.value * 10)) > 0.01", "value": 2.5}, "value": 4.5}, "titleY": 79}},
               "text": {"value": "d"}}}
          ]
        },
        {
          "width": 191, "height": 157,
          "layer": [
            {"data": {"name": "e"}, "mark": {"type": "line", "strokeWidth": 1.3, "interpolate": "monotone"},
             "encoding": {
               "x": {"field": "v", "type": "quantitative", "title": "Potential (V vs. Ag/AgCl)", "scale": {"domain": [-1.7, -0.236], "nice": false, "zero": false}, "axis": {"title": "Potential (V vs. Ag/AgCl)", "labelOverlap": false, "values": [-1.65, -1.5, -1.35, -1.2, -1.05, -0.9, -0.75, -0.6, -0.45, -0.3], "format": ".1f", "labelExpr": "abs(datum.value * 10 / 3 - round(datum.value * 10 / 3)) < 0.01 ? datum.label : ''", "tickSize": {"condition": {"test": "abs(datum.value * 10 / 3 - round(datum.value * 10 / 3)) > 0.01", "value": 2.5}, "value": 4.5}}},
               "y": {"field": "j", "type": "quantitative", "title": "Current density (mA/cm²)", "scale": {"domain": [-3.54, 0.56], "nice": false, "zero": false}, "axis": {"title": "Current density (mA/cm²)", "labelOverlap": false, "values": [-3, -2.5, -2, -1.5, -1, -0.5, 0], "format": ".0f", "labelExpr": "abs(datum.value - round(datum.value)) < 0.01 ? datum.label : ''", "tickSize": {"condition": {"test": "abs(datum.value - round(datum.value)) > 0.01", "value": 2.5}, "value": 4.5}, "titleY": 77.5, "titlePadding": 8}},
               "color": {"field": "s", "type": "nominal", "scale": {"domain": ["Co₃O₄/g-C₃N₄", "Co₃O₄"], "range": ["#444444", "#ff3b3b"]},
                 "legend": {"orient": "none", "legendX": 92, "legendY": 93, "title": null, "symbolSize": 240, "symbolType": "M-2,0H2", "labelOffset": 9, "rowPadding": 12.5, "symbolStrokeWidth": 1.3}}}},
            {"data": {"values": [{}]}, "mark": {"type": "rule", "strokeDash": [5, 3], "color": "#444444", "strokeWidth": 1.2},
             "encoding": {
               "x": {"datum": -1.0, "type": "quantitative", "title": "Potential (V vs. Ag/AgCl)", "scale": {"domain": [-1.7, -0.236], "nice": false, "zero": false}, "axis": {"title": "Potential (V vs. Ag/AgCl)", "labelOverlap": false, "values": [-1.65, -1.5, -1.35, -1.2, -1.05, -0.9, -0.75, -0.6, -0.45, -0.3], "format": ".1f", "labelExpr": "abs(datum.value * 10 / 3 - round(datum.value * 10 / 3)) < 0.01 ? datum.label : ''", "tickSize": {"condition": {"test": "abs(datum.value * 10 / 3 - round(datum.value * 10 / 3)) > 0.01", "value": 2.5}, "value": 4.5}}},
               "y": {"datum": 0.56, "type": "quantitative", "title": "Current density (mA/cm²)", "scale": {"domain": [-3.54, 0.56], "nice": false, "zero": false}, "axis": {"title": "Current density (mA/cm²)", "labelOverlap": false, "values": [-3, -2.5, -2, -1.5, -1, -0.5, 0], "format": ".0f", "labelExpr": "abs(datum.value - round(datum.value)) < 0.01 ? datum.label : ''", "tickSize": {"condition": {"test": "abs(datum.value - round(datum.value)) > 0.01", "value": 2.5}, "value": 4.5}, "titleY": 77.5, "titlePadding": 8}},
               "y2": {"datum": -3.54}}},
            {"data": {"values": [{}]}, "mark": {"type": "text", "fontSize": 19, "font": "Liberation Serif", "align": "left", "baseline": "alphabetic", "color": "#000000"},
             "encoding": {
               "x": {"datum": -1.63, "type": "quantitative", "title": "Potential (V vs. Ag/AgCl)", "scale": {"domain": [-1.7, -0.236], "nice": false, "zero": false}, "axis": {"title": "Potential (V vs. Ag/AgCl)", "labelOverlap": false, "values": [-1.65, -1.5, -1.35, -1.2, -1.05, -0.9, -0.75, -0.6, -0.45, -0.3], "format": ".1f", "labelExpr": "abs(datum.value * 10 / 3 - round(datum.value * 10 / 3)) < 0.01 ? datum.label : ''", "tickSize": {"condition": {"test": "abs(datum.value * 10 / 3 - round(datum.value * 10 / 3)) > 0.01", "value": 2.5}, "value": 4.5}}},
               "y": {"datum": 0.0, "type": "quantitative", "title": "Current density (mA/cm²)", "scale": {"domain": [-3.54, 0.56], "nice": false, "zero": false}, "axis": {"title": "Current density (mA/cm²)", "labelOverlap": false, "values": [-3, -2.5, -2, -1.5, -1, -0.5, 0], "format": ".0f", "labelExpr": "abs(datum.value - round(datum.value)) < 0.01 ? datum.label : ''", "tickSize": {"condition": {"test": "abs(datum.value - round(datum.value)) > 0.01", "value": 2.5}, "value": 4.5}, "titleY": 77.5, "titlePadding": 8}},
               "text": {"value": "e"}}}
          ]
        },
        {
          "width": 192, "height": 157,
          "layer": [
            {"data": {"name": "f"}, "mark": {"type": "line", "interpolate": "monotone", "strokeWidth": 1.3},
             "encoding": {
               "x": {"field": "t", "type": "quantitative", "title": "Time (min)", "scale": {"domain": [-4.5, 65.3], "nice": false, "zero": false}, "axis": {"title": "Time (min)", "labelOverlap": false, "values": [0, 5, 10, 15, 20, 25, 30, 35, 40, 45, 50, 55, 60], "labelExpr": "datum.value % 10 === 0 ? datum.label : ''", "tickSize": {"condition": {"test": "datum.value % 10 !== 0", "value": 2.5}, "value": 4.5}}},
               "y": {"field": "r", "type": "quantitative", "title": "Removal efficiency (%)", "scale": {"domain": [-10, 111.4], "nice": false, "zero": false}, "axis": {"title": "Removal efficiency (%)", "labelOverlap": false, "values": [0, 10, 20, 30, 40, 50, 60, 70, 80, 90, 100], "labelExpr": "datum.value % 20 === 0 ? datum.label : ''", "tickSize": {"condition": {"test": "datum.value % 20 !== 0", "value": 2.5}, "value": 4.5}, "titleY": 86, "titlePadding": 0}},
               "color": {"field": "s", "type": "nominal", "sort": ["1 mA/cm²", "2.5 mA/cm²", "5 mA/cm²", "10 mA/cm²", "12.5 mA/cm²"], "scale": {"range": ["#4a4a4a", "#ff3a3a", "#2f7ee6", "#3dbb6d", "#b98ae8"]},
                 "legend": {"orient": "none", "legendX": 98, "legendY": 73, "title": null, "symbolType": "M-4,0H-1M1,0H4", "symbolSize": 49, "labelOffset": 13.5, "rowPadding": 3.5}}}},
            {"data": {"name": "f"}, "mark": {"type": "errorbar", "ticks": {"size": 5, "opacity": 0.45}, "rule": {"opacity": 0.45}},
             "encoding": {
               "x": {"field": "t", "type": "quantitative", "title": "Time (min)", "scale": {"domain": [-4.5, 65.3], "nice": false, "zero": false}, "axis": {"title": "Time (min)", "labelOverlap": false, "values": [0, 5, 10, 15, 20, 25, 30, 35, 40, 45, 50, 55, 60], "labelExpr": "datum.value % 10 === 0 ? datum.label : ''", "tickSize": {"condition": {"test": "datum.value % 10 !== 0", "value": 2.5}, "value": 4.5}}},
               "y": {"field": "r", "type": "quantitative", "title": "Removal efficiency (%)", "scale": {"domain": [-10, 111.4], "nice": false, "zero": false}, "axis": {"title": "Removal efficiency (%)", "labelOverlap": false, "values": [0, 10, 20, 30, 40, 50, 60, 70, 80, 90, 100], "labelExpr": "datum.value % 20 === 0 ? datum.label : ''", "tickSize": {"condition": {"test": "datum.value % 20 !== 0", "value": 2.5}, "value": 4.5}, "titleY": 86, "titlePadding": 0}},
               "yError": {"field": "e"},
               "color": {"field": "s", "type": "nominal", "sort": ["1 mA/cm²", "2.5 mA/cm²", "5 mA/cm²", "10 mA/cm²", "12.5 mA/cm²"], "scale": {"range": ["#4a4a4a", "#ff3a3a", "#2f7ee6", "#3dbb6d", "#b98ae8"]}}}},
            {"data": {"name": "f"}, "mark": {"type": "point", "size": 45, "strokeWidth": 1.2, "opacity": 1},
             "encoding": {
               "x": {"field": "t", "type": "quantitative", "title": "Time (min)", "scale": {"domain": [-4.5, 65.3], "nice": false, "zero": false}, "axis": {"title": "Time (min)", "labelOverlap": false, "values": [0, 5, 10, 15, 20, 25, 30, 35, 40, 45, 50, 55, 60], "labelExpr": "datum.value % 10 === 0 ? datum.label : ''", "tickSize": {"condition": {"test": "datum.value % 10 !== 0", "value": 2.5}, "value": 4.5}}},
               "y": {"field": "r", "type": "quantitative", "title": "Removal efficiency (%)", "scale": {"domain": [-10, 111.4], "nice": false, "zero": false}, "axis": {"title": "Removal efficiency (%)", "labelOverlap": false, "values": [0, 10, 20, 30, 40, 50, 60, 70, 80, 90, 100], "labelExpr": "datum.value % 20 === 0 ? datum.label : ''", "tickSize": {"condition": {"test": "datum.value % 20 !== 0", "value": 2.5}, "value": 4.5}, "titleY": 86, "titlePadding": 0}},
               "shape": {"field": "s", "type": "nominal", "scale": {"domain": ["1 mA/cm²", "2.5 mA/cm²", "5 mA/cm²", "10 mA/cm²", "12.5 mA/cm²"], "range": ["square", "circle", "triangle-up", "triangle-down", "diamond"]},
                 "legend": {"orient": "none", "legendX": 98, "legendY": 73, "title": null, "symbolSize": 49, "labelOffset": 13.5, "rowPadding": 3.5, "labelOpacity": 0}},
               "fill": {"field": "s", "type": "nominal", "scale": {"domain": ["1 mA/cm²", "2.5 mA/cm²", "5 mA/cm²", "10 mA/cm²", "12.5 mA/cm²"], "range": ["#808080", "#ffc4c4", "#3d8ef5", "#6fd898", "#c9a2f2"]},
                 "legend": {"orient": "none", "legendX": 98, "legendY": 73, "title": null, "symbolSize": 49, "labelOffset": 13.5, "rowPadding": 3.5, "labelOpacity": 0}},
               "stroke": {"field": "s", "type": "nominal", "scale": {"domain": ["1 mA/cm²", "2.5 mA/cm²", "5 mA/cm²", "10 mA/cm²", "12.5 mA/cm²"], "range": ["#4a4a4a", "#ff3a3a", "#2f7ee6", "#3dbb6d", "#b98ae8"]},
                 "legend": {"orient": "none", "legendX": 98, "legendY": 73, "title": null, "symbolSize": 49, "labelOffset": 13.5, "rowPadding": 3.5, "labelOpacity": 0}}}},
            {"data": {"values": [{}]}, "mark": {"type": "text", "fontSize": 19, "font": "Liberation Serif", "align": "left", "baseline": "alphabetic", "color": "#000000"},
             "encoding": {
               "x": {"datum": -1.56, "type": "quantitative", "title": "Time (min)", "scale": {"domain": [-4.5, 65.3], "nice": false, "zero": false}, "axis": {"title": "Time (min)", "labelOverlap": false, "values": [0, 5, 10, 15, 20, 25, 30, 35, 40, 45, 50, 55, 60], "labelExpr": "datum.value % 10 === 0 ? datum.label : ''", "tickSize": {"condition": {"test": "datum.value % 10 !== 0", "value": 2.5}, "value": 4.5}}},
               "y": {"datum": 94.4, "type": "quantitative", "title": "Removal efficiency (%)", "scale": {"domain": [-10, 111.4], "nice": false, "zero": false}, "axis": {"title": "Removal efficiency (%)", "labelOverlap": false, "values": [0, 10, 20, 30, 40, 50, 60, 70, 80, 90, 100], "labelExpr": "datum.value % 20 === 0 ? datum.label : ''", "tickSize": {"condition": {"test": "datum.value % 20 !== 0", "value": 2.5}, "value": 4.5}, "titleY": 86, "titlePadding": 0}},
               "text": {"value": "f"}}}
          ]
        }
      ],
      "spacing": 41,
      "bounds": "flush",
      "resolve": {"scale": {"color": "independent", "fill": "independent", "stroke": "independent", "shape": "independent"}}
    }
  ]
}
